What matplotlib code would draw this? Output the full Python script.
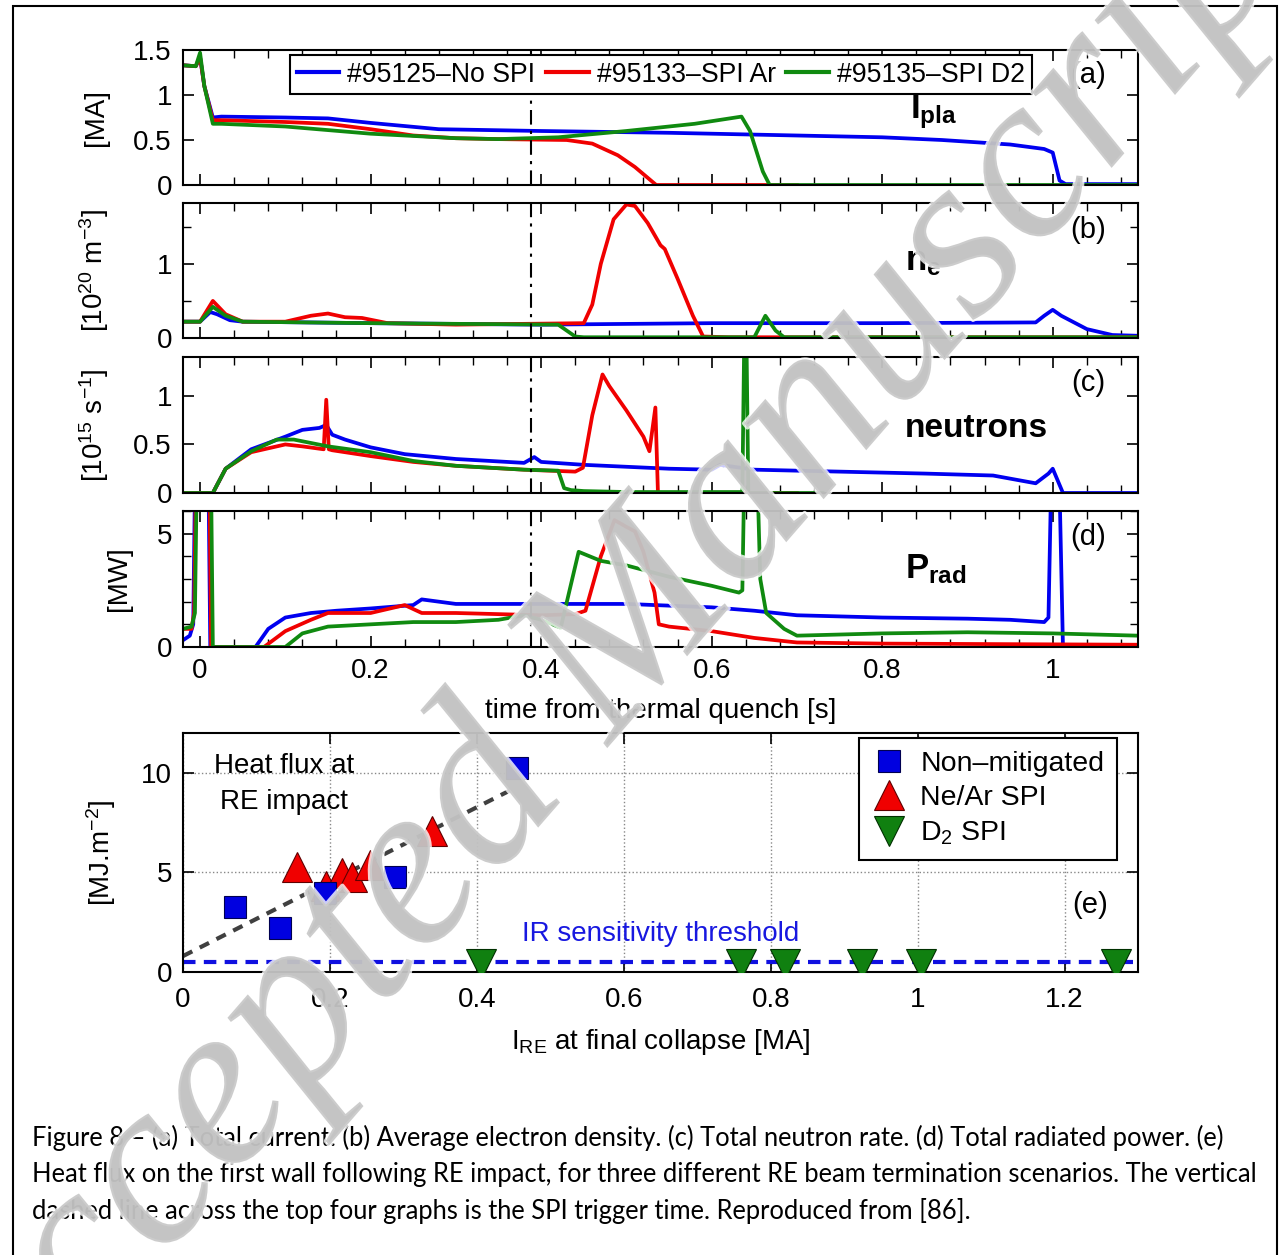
import matplotlib
matplotlib.use("Agg")
import matplotlib.pyplot as plt
import matplotlib.patheffects as pe
from matplotlib.patches import Rectangle
from matplotlib.ticker import MultipleLocator, FuncFormatter

plt.rcParams['font.family'] = ['Liberation Sans', 'DejaVu Sans']
plt.rcParams['mathtext.fontset'] = 'custom'
plt.rcParams['mathtext.rm'] = 'Liberation Sans'
plt.rcParams['mathtext.it'] = 'Liberation Sans:italic'
plt.rcParams['mathtext.bf'] = 'Liberation Sans:bold'

# ---------------- data ----------------
t_spi = 0.388
shots = ['#95125\u2013No SPI', '#95133\u2013SPI Ar', '#95135\u2013SPI D2']

# (a) plasma current [MA]
t_ip_b = [-0.02, -0.005, 0.0, 0.005, 0.015, 0.025, 0.1, 0.15, 0.2, 0.28, 0.4, 0.55, 0.7, 0.8, 0.87, 0.95, 0.99, 1.0, 1.008, 1.015, 1.1]
ip_b = [1.33, 1.32, 1.42, 1.1, 0.75, 0.76, 0.75, 0.74, 0.69, 0.62, 0.6, 0.58, 0.55, 0.53, 0.5, 0.45, 0.4, 0.36, 0.05, 0.01, 0.01]
t_ip_r = [-0.02, -0.005, 0.0, 0.005, 0.015, 0.025, 0.1, 0.15, 0.2, 0.25, 0.3, 0.35, 0.43, 0.46, 0.49, 0.51, 0.525, 0.535, 0.7]
ip_r = [1.33, 1.32, 1.42, 1.1, 0.72, 0.72, 0.7, 0.68, 0.62, 0.55, 0.52, 0.51, 0.5, 0.46, 0.33, 0.2, 0.08, 0.0, 0.0]
t_ip_g = [-0.02, -0.005, 0.0, 0.005, 0.015, 0.025, 0.1, 0.2, 0.3, 0.35, 0.42, 0.5, 0.58, 0.635, 0.645, 0.66, 0.668, 1.1]
ip_g = [1.33, 1.32, 1.47, 1.1, 0.68, 0.68, 0.65, 0.57, 0.52, 0.51, 0.53, 0.6, 0.68, 0.76, 0.6, 0.15, 0.0, 0.0]

# (b) electron density [1e20 m^-3]
t_ne_b = [-0.02, 0.0, 0.012, 0.02, 0.035, 0.05, 0.2, 0.4, 0.6, 0.8, 0.98, 0.99, 1.0, 1.01, 1.04, 1.07, 1.1]
ne_b = [0.22, 0.22, 0.35, 0.32, 0.24, 0.22, 0.2, 0.18, 0.2, 0.2, 0.21, 0.3, 0.38, 0.3, 0.12, 0.04, 0.03]
t_ne_r = [-0.02, 0.0, 0.015, 0.03, 0.05, 0.1, 0.13, 0.15, 0.17, 0.19, 0.22, 0.3, 0.45, 0.46, 0.47, 0.485, 0.5, 0.51, 0.525, 0.54, 0.545, 0.56, 0.578, 0.59, 0.62, 1.1]
ne_r = [0.22, 0.22, 0.5, 0.32, 0.22, 0.22, 0.3, 0.33, 0.28, 0.27, 0.2, 0.18, 0.2, 0.45, 1.0, 1.6, 1.8, 1.78, 1.55, 1.25, 1.2, 0.8, 0.3, 0.02, 0.01, 0.01]
t_ne_g = [-0.02, 0.0, 0.015, 0.03, 0.05, 0.2, 0.42, 0.43, 0.44, 0.45, 0.65, 0.663, 0.675, 0.685, 1.1]
ne_g = [0.22, 0.22, 0.42, 0.3, 0.22, 0.2, 0.18, 0.1, 0.02, 0.01, 0.01, 0.3, 0.1, 0.01, 0.01]

# (c) neutron rate [1e15 s^-1]
t_n_b = [-0.02, 0.015, 0.03, 0.06, 0.1, 0.12, 0.14, 0.148, 0.155, 0.17, 0.2, 0.24, 0.3, 0.38, 0.392, 0.4, 0.45, 0.5, 0.55, 0.6, 0.61, 0.65, 0.75, 0.85, 0.93, 0.98, 0.995, 1.0, 1.012, 1.1]
n_b = [0.0, 0.0, 0.25, 0.45, 0.58, 0.65, 0.67, 0.7, 0.6, 0.55, 0.47, 0.4, 0.35, 0.31, 0.37, 0.32, 0.29, 0.27, 0.25, 0.24, 0.29, 0.24, 0.22, 0.2, 0.18, 0.1, 0.2, 0.25, 0.0, 0.0]
t_n_r = [-0.02, 0.015, 0.03, 0.06, 0.1, 0.12, 0.145, 0.148, 0.151, 0.155, 0.2, 0.25, 0.3, 0.38, 0.44, 0.449, 0.46, 0.472, 0.48, 0.5, 0.52, 0.527, 0.534, 0.537, 0.55, 0.7]
n_r = [0, 0, 0.25, 0.42, 0.5, 0.48, 0.45, 0.96, 0.45, 0.44, 0.38, 0.32, 0.28, 0.24, 0.22, 0.26, 0.8, 1.22, 1.1, 0.85, 0.58, 0.43, 0.88, 0.0, 0.0, 0.0]
t_n_g = [-0.02, 0.015, 0.03, 0.06, 0.09, 0.11, 0.15, 0.2, 0.25, 0.3, 0.38, 0.42, 0.427, 0.435, 0.45, 0.5, 0.636, 0.638, 0.641, 0.643, 0.73]
n_g = [0, 0, 0.25, 0.43, 0.55, 0.55, 0.48, 0.42, 0.33, 0.28, 0.24, 0.23, 0.05, 0.03, 0.02, 0.01, 0.01, 1.45, 1.45, 0.0, 0.0]

# (d) radiated power [MW]
t_p_b = [-0.02, -0.012, -0.008, -0.006, 0.01, 0.012, 0.065, 0.08, 0.1, 0.13, 0.16, 0.2, 0.25, 0.26, 0.3, 0.4, 0.5, 0.6, 0.65, 0.7, 0.8, 0.9, 0.95, 0.99, 0.995, 0.998, 1.008, 1.012, 1.1]
p_b = [0.3, 0.5, 1.0, 7, 7, 0.0, 0.0, 0.8, 1.3, 1.5, 1.6, 1.7, 1.85, 2.1, 1.9, 1.9, 1.9, 1.75, 1.6, 1.4, 1.3, 1.25, 1.2, 1.1, 1.3, 7, 7, 0.0, 0.05]
t_p_r = [-0.02, -0.01, -0.007, -0.005, 0.011, 0.013, 0.075, 0.1, 0.13, 0.15, 0.2, 0.24, 0.26, 0.3, 0.35, 0.4, 0.44, 0.452, 0.47, 0.486, 0.5, 0.51, 0.52, 0.533, 0.538, 0.55, 0.6, 0.65, 0.7, 0.8, 1.1]
p_r = [0.8, 0.8, 1.5, 7, 7, 0.0, 0.0, 0.7, 1.2, 1.5, 1.5, 1.85, 1.5, 1.5, 1.45, 1.4, 1.45, 1.6, 4.0, 5.6, 5.3, 5.1, 4.2, 2.4, 1.0, 0.9, 0.7, 0.4, 0.2, 0.15, 0.1]
t_p_g = [-0.02, -0.01, -0.006, -0.004, 0.013, 0.015, 0.1, 0.12, 0.15, 0.2, 0.25, 0.3, 0.35, 0.38, 0.4, 0.423, 0.444, 0.47, 0.5, 0.55, 0.6, 0.632, 0.636, 0.638, 0.654, 0.657, 0.664, 0.685, 0.7, 0.75, 0.8, 0.9, 1.0, 1.1]
p_g = [0.8, 0.9, 1.5, 7, 7, 0.0, 0.0, 0.6, 0.9, 1.0, 1.1, 1.1, 1.2, 1.4, 1.2, 0.85, 4.2, 3.8, 3.6, 3.1, 2.7, 2.4, 2.5, 7, 7, 3.0, 1.5, 0.8, 0.5, 0.55, 0.6, 0.65, 0.6, 0.5]

# (e) heat flux vs RE current
nonmit_x = [0.071, 0.132, 0.193, 0.288, 0.454]
nonmit_y = [3.25, 2.2, 3.95, 4.75, 10.25]
near_x = [0.155, 0.194, 0.216, 0.230, 0.254, 0.339]
near_y = [5.25, 4.3, 4.95, 4.75, 5.35, 7.1]
d2_x = [0.405, 0.76, 0.82, 0.924, 1.005, 1.27]
d2_y = [0.4, 0.4, 0.4, 0.4, 0.4, 0.4]
fit_x = [0.0, 0.455]
fit_y = [0.8, 9.3]
ir_threshold = 0.5

# ---------------- figure ----------------
W, H = 1280, 1255
fig = plt.figure(figsize=(W / 100, H / 100), dpi=100)

def px_axes(left, top, right, bottom):
    return fig.add_axes([left / W, 1 - bottom / H, (right - left) / W, (bottom - top) / H])

blue, red, green = '#0000f0', '#f00000', '#108a10'
lw = 2.7
fs = 20
fmt = FuncFormatter(lambda v, p: '%g' % v)

def style(ax):
    ax.tick_params(direction='in', which='both', top=True, right=True, labelsize=fs, pad=8)
    ax.tick_params(which='major', length=8, width=1.2)
    ax.tick_params(which='minor', length=6, width=1.0)
    for s in ax.spines.values():
        s.set_linewidth(1.5)

ax_a = px_axes(183, 50, 1138, 185)
ax_b = px_axes(183, 203, 1138, 338)
ax_c = px_axes(183, 357, 1138, 493)
ax_d = px_axes(183, 511, 1138, 647)
ax_e = px_axes(183, 733, 1138, 972)

traces = [
    (ax_a, (t_ip_b, ip_b), (t_ip_r, ip_r), (t_ip_g, ip_g), (0, 1.5)),
    (ax_b, (t_ne_b, ne_b), (t_ne_r, ne_r), (t_ne_g, ne_g), (0, 1.82)),
    (ax_c, (t_n_b, n_b), (t_n_r, n_r), (t_n_g, n_g), (0, 1.4)),
    (ax_d, (t_p_b, p_b), (t_p_r, p_r), (t_p_g, p_g), (0, 6)),
]
for ax, b, r, g, ylim in traces:
    ax.plot(*b, color=blue, lw=lw)
    ax.plot(*r, color=red, lw=lw)
    ax.plot(*g, color=green, lw=lw)
    ax.axvline(t_spi, color='k', lw=1.5, ls=(0, (7, 3, 1.5, 3)))
    ax.set_xlim(-0.02, 1.1)
    ax.set_ylim(*ylim)
    ax.xaxis.set_major_locator(MultipleLocator(0.2))
    ax.xaxis.set_minor_locator(MultipleLocator(0.04))
    ax.xaxis.set_major_formatter(fmt)
    ax.yaxis.set_major_formatter(fmt)
    style(ax)
    if ax is not ax_d:
        ax.tick_params(labelbottom=False)

ax_a.set_yticks([0, 0.5, 1, 1.5])
ax_b.set_yticks([0, 1])
ax_b.yaxis.set_minor_locator(MultipleLocator(0.5))
ax_c.set_yticks([0, 0.5, 1])
ax_d.set_yticks([0, 5])
ax_d.yaxis.set_minor_locator(MultipleLocator(1))

leg = ax_a.legend(ax_a.lines[:3], shots, loc='upper left',
                  bbox_to_anchor=((290 - 183) / 955, (185 - 55) / 135), ncol=3, fontsize=19.2,
                  frameon=True, fancybox=False, edgecolor='k', framealpha=1,
                  handlelength=1.6, handletextpad=0.3, columnspacing=0.4, borderpad=0.25,
                  borderaxespad=0)
leg.get_frame().set_linewidth(1.5)
for h in leg.legend_handles:
    h.set_linewidth(3)

ax_a.set_ylabel('[MA]', fontsize=fs)
ax_b.set_ylabel(r'[10$^{20}$ m$^{-3}$]', fontsize=fs)
ax_c.set_ylabel(r'[10$^{15}$ s$^{-1}$]', fontsize=fs)
ax_d.set_ylabel('[MW]', fontsize=fs)
ax_a.yaxis.set_label_coords(-0.077, 0.5)
ax_b.yaxis.set_label_coords(-0.075, 0.5)
ax_c.yaxis.set_label_coords(-0.075, 0.5)
ax_d.yaxis.set_label_coords(-0.053, 0.5)
ax_d.set_xlabel('time from thermal quench [s]', fontsize=fs, labelpad=10)

for ax, lab, y in [(ax_a, '(a)', 0.815), (ax_b, '(b)', 0.8), (ax_c, '(c)', 0.81), (ax_d, '(d)', 0.81)]:
    ax.text(0.948, y, lab, transform=ax.transAxes, fontsize=21, ha='center', va='center')

ax_a.text(0.761, 0.496, r'$\mathbf{I}_{\mathbf{pla}}$', transform=ax_a.transAxes, fontsize=25, va='baseline')
ax_b.text(0.756, 0.50, r'$\mathbf{n}_{\mathbf{e}}$', transform=ax_b.transAxes, fontsize=25, va='baseline')
ax_c.text(0.756, 0.41, 'neutrons', transform=ax_c.transAxes, fontsize=24, fontweight='bold', va='baseline')
ax_d.text(0.756, 0.507, r'$\mathbf{P}_{\mathbf{rad}}$', transform=ax_d.transAxes, fontsize=25, va='baseline')

# (e)
ax_e.grid(True, ls=':', color='#888888', lw=1.0)
ax_e.axhline(ir_threshold, color='#1010e0', lw=3, ls=(0, (3, 2)), zorder=2)
ax_e.plot(fit_x, fit_y, color='#404040', lw=3, ls=(0, (2.5, 2)), zorder=2)
ax_e.plot(near_x, near_y, ls='', marker='^', ms=22, mfc=red, mec='#600000', mew=0.8, label='Ne/Ar SPI', zorder=3)
ax_e.plot(nonmit_x, nonmit_y, ls='', marker='s', ms=16, mfc='#0000e0', mec='#000050', mew=0.8, label='Non\u2013mitigated', zorder=4)
ax_e.plot(d2_x, d2_y, ls='', marker='v', ms=22, mfc='#108010', mec='#003000', mew=0.8, label=r'D$_2$ SPI', zorder=4)
h, l = ax_e.get_legend_handles_labels()
leg_e = ax_e.legend([h[1], h[0], h[2]], [l[1], l[0], l[2]], loc='upper right',
                    bbox_to_anchor=((1117 - 183) / 955, (972 - 738) / 239), fontsize=20.5,
                    frameon=True, fancybox=False, edgecolor='k', framealpha=1,
                    handlelength=1.2, handletextpad=0.5, borderpad=0.45, labelspacing=0.3,
                    borderaxespad=0)
leg_e.get_frame().set_linewidth(1.5)
ax_e.set_xlim(0, 1.3)
ax_e.set_ylim(0, 12)
ax_e.set_xticks([0, 0.2, 0.4, 0.6, 0.8, 1.0, 1.2])
ax_e.set_yticks([0, 5, 10])
ax_e.xaxis.set_major_formatter(fmt)
style(ax_e)
ax_e.tick_params(axis='x', pad=11)
ax_e.set_ylabel(r'[MJ.m$^{-2}$]', fontsize=fs)
ax_e.yaxis.set_label_coords(-0.068, 0.5)
ax_e.set_xlabel(r'I$_{\rm RE}$ at final collapse [MA]', fontsize=fs, labelpad=10)
ax_e.text(0.106, 0.787, 'Heat flux at\nRE impact', transform=ax_e.transAxes, fontsize=fs,
          ha='center', va='center', linespacing=1.5)
ax_e.text(0.5, 0.159, 'IR sensitivity threshold', transform=ax_e.transAxes, fontsize=fs,
          color='#1818e0', ha='center', va='center')
ax_e.text(0.95, 0.28, '(e)', transform=ax_e.transAxes, fontsize=21, ha='center', va='center')

# caption
caption = [
    'Figure 8 \u2013 (a) Total current. (b) Average electron density. (c) Total neutron rate. (d) Total radiated power. (e)',
    'Heat flux on the first wall following RE impact, for three different RE beam termination scenarios. The vertical',
    'dashed line across the top four graphs is the SPI trigger time. Reproduced from [86].',
]
for i, line in enumerate(caption):
    fig.text(32 / W, 1 - (1138 + 36.5 * i) / H, line, fontsize=18.4, family=['Lato', 'DejaVu Sans'],
             ha='left', va='center')

# page frame
fig.patches.append(Rectangle((13 / W, -0.01), (1277 - 13) / W, 1.01 - 6 / H, transform=fig.transFigure,
                             fill=False, ec='k', lw=1.5))

# watermark
fig.text(620 / W, 1 - 645 / H, 'Accepted Manuscript', rotation=49, fontsize=172, family='Liberation Serif',
         style='italic', color='#c2c2c2', alpha=0.8, ha='center', va='center', zorder=10,
         path_effects=[pe.withStroke(linewidth=3, foreground='white')])

fig.savefig('out.png', dpi=100)
